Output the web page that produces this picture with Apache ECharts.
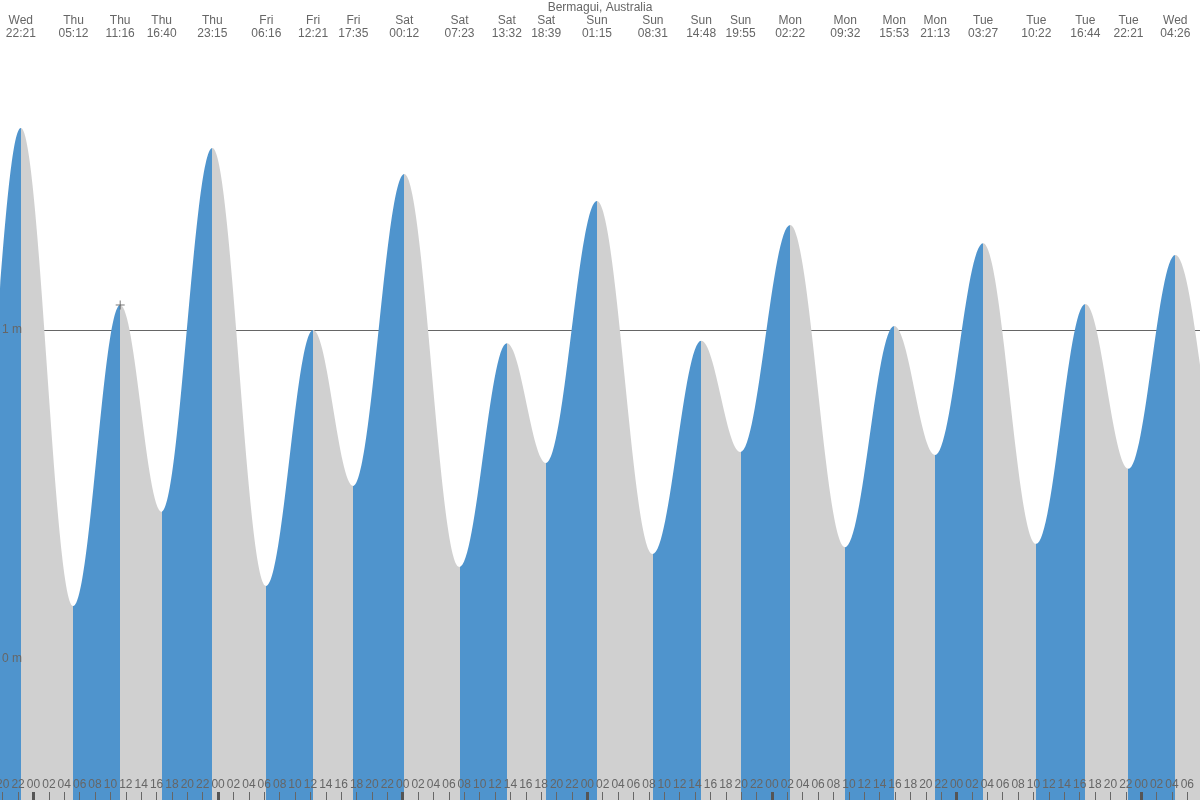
<!DOCTYPE html>
<html><head><meta charset="utf-8">
<script src="https://cdn.jsdelivr.net/npm/echarts@6/dist/echarts.min.js"></script>
<style>html,body{margin:0;padding:0;background:#fff}#c{width:1200px;height:800px}</style>
</head><body><div id="c"></div>
<script>
// Tide extremes (local time)
const tideDays = ['Wed','Thu','Thu','Thu','Thu','Fri','Fri','Fri','Sat','Sat','Sat','Sat','Sun','Sun','Sun','Sun','Mon','Mon','Mon','Mon','Tue','Tue','Tue','Tue','Wed'];
const tideTimes = ['22:21','05:12','11:16','16:40','23:15','06:16','12:21','17:35','00:12','07:23','13:32','18:39','01:15','08:31','14:48','19:55','02:22','09:32','15:53','21:13','03:27','10:22','16:44','22:21','04:26'];
const tideHeights = [1.614,0.161,1.076,0.447,1.553,0.222,1.000,0.526,1.474,0.280,0.960,0.596,1.392,0.319,0.967,0.629,1.319,0.340,1.012,0.620,1.264,0.350,1.079,0.578,1.228];
// estimated extremes just outside the visible window: [hours from first Wed 00:00, metres]
const edgeBefore = [[9.9, 1.15], [16.1, 0.38]];
const edgeAfter = [[179.5, 0.45], [185.6, 1.12]];
// current-time marker
const nowPoint = [35.27, 1.076];
const yLabelValues = [0, 1];

const F = '"Liberation Sans", Arial, sans-serif';
const BLUE = '#4f94cd', GREY = '#d0d0d0', TXT = '#666';
const viewStart = 19.645, viewEnd = 175.645;
const yMin = -141 / 329, yMax = 659 / 329;

// hours since first Wed 00:00
let dayIdx = 0;
const tideT = tideTimes.map((s, i) => {
  if (i > 0 && tideDays[i] !== tideDays[i - 1]) dayIdx++;
  const [h, m] = s.split(':').map(Number);
  return dayIdx * 24 + h + m / 60;
});
const hourTicks = [];
for (let h = 20; h <= 176; h += 2) hourTicks.push(h);
const midnights = [];
for (let h = 24; h <= 168; h += 24) midnights.push(h);

const allT = [...edgeBefore.map(p => p[0]), ...tideT, ...edgeAfter.map(p => p[0])];
const allH = [...edgeBefore.map(p => p[1]), ...tideHeights, ...edgeAfter.map(p => p[1])];
const data = allT.map((t, i) => [t, allH[i]]);
const pieces = [];
for (let i = 0; i < allT.length - 1; i++) {
  pieces.push({ gte: allT[i], lt: allT[i + 1], color: allH[i + 1] > allH[i] ? BLUE : GREY });
}

const chart = echarts.init(document.getElementById('c'));
const baseX = { type: 'value', min: viewStart, max: viewEnd, axisLine: { show: false, onZero: false }, splitLine: { show: false } };
const baseY = { type: 'value', min: yMin, max: yMax, position: 'left', axisLine: { show: false, onZero: false } };
chart.setOption({
  animation: false,
  backgroundColor: '#fff',
  title: { text: 'Bermagui, Australia', left: 'center', top: 0, padding: [2, 0, 0, 0],
    textStyle: { fontSize: 12, fontWeight: 'normal', color: TXT, fontFamily: F, lineHeight: 12 } },
  grid: { left: 0, right: 0, top: 0, bottom: 0, containLabel: false, outerBoundsMode: 'none' },
  xAxis: [
    Object.assign({}, baseX, { position: 'bottom', z: 10,
      axisTick: { show: true, inside: true, length: 8, customValues: hourTicks, lineStyle: { color: '#666', width: 1 } },
      axisLabel: { inside: true, margin: 9, customValues: hourTicks, color: TXT, fontSize: 12, fontFamily: F,
        hideOverlap: false,
        formatter: v => String(((Math.round(v) % 24) + 24) % 24).padStart(2, '0') } }),
    Object.assign({}, baseX, { position: 'bottom', z: 11,
      axisTick: { show: true, inside: true, length: 8, customValues: midnights, lineStyle: { color: '#555', width: 3 } },
      axisLabel: { show: false } }),
    Object.assign({}, baseX, { position: 'top', z: 10,
      axisTick: { show: false },
      axisLabel: { inside: true, margin: 14, customValues: tideT, color: TXT, fontSize: 12, fontFamily: F, lineHeight: 13,
        formatter: v => {
          let best = 0;
          tideT.forEach((t, i) => { if (Math.abs(t - v) < Math.abs(tideT[best] - v)) best = i; });
          return tideDays[best] + '\n' + tideTimes[best];
        } } })
  ],
  yAxis: [
    Object.assign({}, baseY, {
      axisTick: { show: false, customValues: yLabelValues },
      axisLabel: { show: false, customValues: yLabelValues },
      splitLine: { show: true, lineStyle: { color: '#666', width: 1 } } }),
    Object.assign({}, baseY, { z: 10,
      axisTick: { show: false, customValues: yLabelValues },
      splitLine: { show: false },
      axisLabel: { inside: true, margin: 2, customValues: yLabelValues, color: TXT, fontSize: 12, fontFamily: F,
        padding: [3, 0, 0, 0], formatter: '{value} m' } })
  ],
  visualMap: { type: 'piecewise', show: false, dimension: 0, seriesIndex: 0, pieces: pieces },
  series: [
    { type: 'line', data: data, xAxisIndex: 0, yAxisIndex: 0, smooth: 0.364, smoothMonotone: 'x',
      showSymbol: false, symbol: 'none', silent: true, z: 2,
      lineStyle: { opacity: 0, width: 0 }, areaStyle: { opacity: 1, origin: 'start' } },
    { type: 'scatter', data: [nowPoint], xAxisIndex: 0, yAxisIndex: 0, z: 5, silent: true,
      symbol: 'path://M0,5L10,5M5,0L5,10', symbolSize: 9,
      itemStyle: { color: 'none', borderColor: '#555', borderWidth: 1 } }
  ]
});
</script></body></html>
